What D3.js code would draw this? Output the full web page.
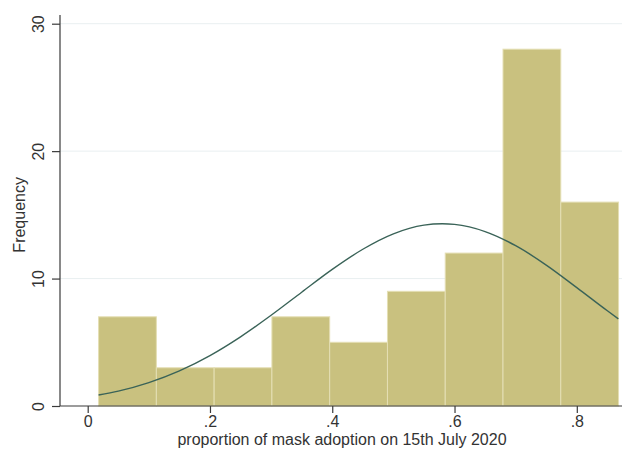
<!DOCTYPE html>
<html>
<head>
<meta charset="utf-8">
<script src="https://cdn.jsdelivr.net/npm/d3@7"></script>
<style>
  html, body { margin: 0; padding: 0; background: #ffffff; }
  svg { display: block; font-family: "Liberation Sans", Arial, sans-serif; }
</style>
</head>
<body>
<svg id="chart" width="622" height="450"></svg>
<script>
// Histogram bins: lower edge of the first bin, bin width, and counts
const binStart = 0.0178;
const binWidth = 0.0945;
const counts = [7, 3, 3, 7, 5, 9, 12, 28, 16];

// Normal density overlay (scaled to frequency), sampled along x
const curveX = [0.0178, 0.05, 0.10, 0.15, 0.20, 0.25, 0.30, 0.35, 0.40, 0.45, 0.50, 0.55, 0.58, 0.60, 0.65, 0.70, 0.75, 0.80, 0.85, 0.868];
const curveY = [0.86, 1.17, 1.84, 2.76, 3.96, 5.43, 7.12, 8.93, 10.72, 12.30, 13.51, 14.19, 14.30, 14.25, 13.69, 12.58, 11.06, 9.29, 7.47, 6.84];

// Axis ticks
const xTicks = [0, 0.2, 0.4, 0.6, 0.8];
const xTickLabels = ["0", ".2", ".4", ".6", ".8"];
const yTicks = [0, 10, 20, 30];

const xTitle = "proportion of mask adoption on 15th July 2020";
const yTitle = "Frequency";

const svg = d3.select("#chart");

const x = d3.scaleLinear().domain([0, 0.8]).range([87.7, 576.8]);
const y = d3.scaleLinear().domain([0, 30]).range([406, 23.7]);

const axisLeft = 60;
const axisRight = 622;
const fontSize = 16;

// Grid lines
svg.append("g")
  .selectAll("line")
  .data(yTicks.filter(d => d > 0))
  .join("line")
  .attr("x1", axisLeft).attr("x2", axisRight)
  .attr("y1", d => y(d)).attr("y2", d => y(d))
  .attr("stroke", "#e9eff1")
  .attr("stroke-width", 1);

// Bars
const bins = counts.map((c, i) => ({
  x0: binStart + i * binWidth,
  x1: binStart + (i + 1) * binWidth,
  n: c
}));

svg.append("g")
  .selectAll("rect")
  .data(bins)
  .join("rect")
  .attr("x", d => x(d.x0))
  .attr("y", d => y(d.n))
  .attr("width", d => x(d.x1) - x(d.x0))
  .attr("height", d => y(0) - y(d.n))
  .attr("fill", "#c9c17f")
  .attr("stroke", "#e4dfb4")
  .attr("stroke-width", 1);

// Density curve
const line = d3.line()
  .x(d => x(d[0]))
  .y(d => y(d[1]))
  .curve(d3.curveMonotoneX);

svg.append("path")
  .datum(curveX.map((v, i) => [v, curveY[i]]))
  .attr("d", line)
  .attr("fill", "none")
  .attr("stroke", "#3a6358")
  .attr("stroke-width", 1.4);

// Y axis
const yAxis = d3.axisLeft(y)
  .tickValues(yTicks)
  .tickSize(8)
  .tickFormat(d3.format("d"));

const gy = svg.append("g")
  .attr("transform", `translate(${axisLeft},0)`)
  .call(yAxis);
gy.select(".domain").remove();
gy.append("line")
  .attr("x1", 0).attr("x2", 0)
  .attr("y1", 15).attr("y2", y(0))
  .attr("stroke", "#3a3a3a").attr("stroke-width", 1.2);
gy.selectAll(".tick line").attr("stroke", "#3a3a3a").attr("stroke-width", 1.2);
gy.selectAll(".tick text")
  .attr("font-size", fontSize)
  .attr("fill", "#333")
  .attr("text-anchor", "middle")
  .attr("x", 0)
  .attr("y", 0)
  .attr("dy", "0.35em")
  .attr("transform", "translate(-22,0) rotate(-90)");

// X axis
const xAxis = d3.axisBottom(x)
  .tickValues(xTicks)
  .tickFormat((d, i) => xTickLabels[i])
  .tickSize(7)
  .tickPadding(3);

const gx = svg.append("g")
  .attr("transform", `translate(0,${y(0)})`)
  .call(xAxis);
gx.select(".domain").remove();
gx.append("line")
  .attr("x1", axisLeft).attr("x2", axisRight)
  .attr("y1", 0).attr("y2", 0)
  .attr("stroke", "#3a3a3a").attr("stroke-width", 1.2);
gx.selectAll(".tick line").attr("stroke", "#3a3a3a").attr("stroke-width", 1.2);
gx.selectAll(".tick text")
  .attr("font-size", fontSize)
  .attr("fill", "#333");

// Axis titles
svg.append("text")
  .attr("x", 342)
  .attr("y", 445)
  .attr("text-anchor", "middle")
  .attr("font-size", fontSize)
  .attr("fill", "#333")
  .text(xTitle);

svg.append("text")
  .attr("transform", `translate(25,${y(15)}) rotate(-90)`)
  .attr("text-anchor", "middle")
  .attr("font-size", fontSize)
  .attr("fill", "#333")
  .text(yTitle);
</script>
</body>
</html>
